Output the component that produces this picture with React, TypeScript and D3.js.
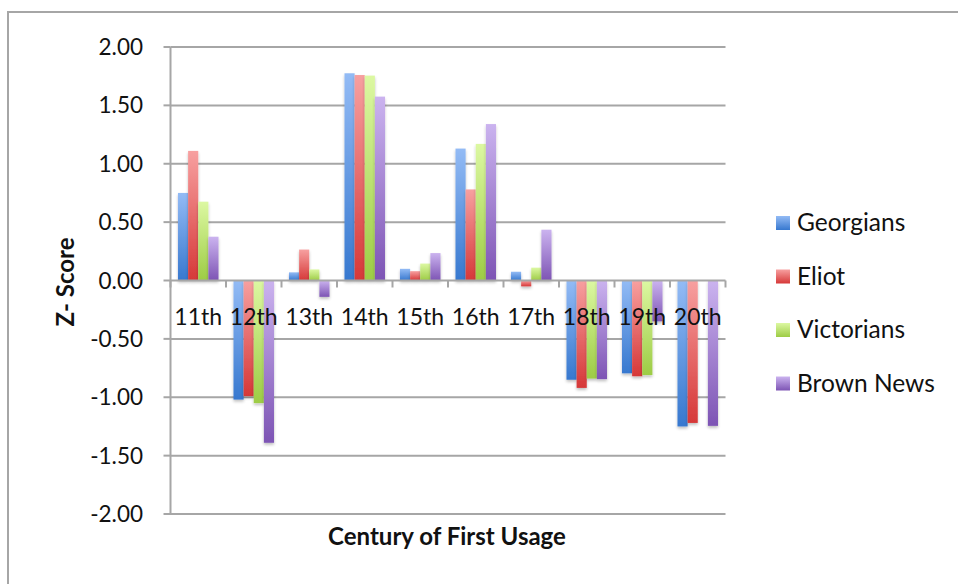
import React from "react";
import * as d3 from "d3";

const categories = ["11th", "12th", "13th", "14th", "15th", "16th", "17th", "18th", "19th", "20th"];
const seriesNames = ["Georgians", "Eliot", "Victorians", "Brown News"];
const georgians = [0.75, -1.02, 0.07, 1.775, 0.1, 1.13, 0.075, -0.85, -0.795, -1.25];
const eliot = [1.11, -0.99, 0.265, 1.76, 0.08, 0.78, -0.05, -0.92, -0.82, -1.22];
const victorians = [0.675, -1.05, 0.095, 1.755, 0.145, 1.17, 0.11, -0.84, -0.81, 0];
const brownNews = [0.375, -1.39, -0.14, 1.575, 0.235, 1.34, 0.435, -0.845, -0.35, -1.245];
const yTicks = [2, 1.5, 1, 0.5, 0, -0.5, -1, -1.5, -2];

const seriesValues = [georgians, eliot, victorians, brownNews];
const gradStops = [
  ["#93bbf5", "#3778cf"],
  ["#f7a0a0", "#d63838"],
  ["#dcf8a2", "#9dcc45"],
  ["#cbb3ef", "#7d54b4"],
];

const FONT = "Lato, 'Open Sans', sans-serif";

export default function App() {
  const W = 958, H = 584;
  const x0 = 170.5, x1 = 725.5;
  const y = d3.scaleLinear().domain([-2, 2]).range([514, 47]);
  const xb = d3.scaleBand<string>().domain(categories).range([x0, x1]).padding(0);
  const step = xb.bandwidth();
  const inner = d3.scaleBand<number>().domain([0, 1, 2, 3]).range([step * 0.135, step * 0.865]).padding(0);
  const zeroY = y(0);

  return (
    <svg width={W} height={H} style={{ position: "absolute", left: 0, top: 0 }}>
      <defs>
        {gradStops.map((g, i) => (
          <linearGradient key={i} id={`g${i}`} x1="0" y1="0" x2="0" y2="1">
            <stop offset="0%" stopColor={g[0]} />
            <stop offset="100%" stopColor={g[1]} />
          </linearGradient>
        ))}
        <filter id="sh" x="-30%" y="-10%" width="160%" height="130%">
          <feGaussianBlur in="SourceAlpha" stdDeviation="1.5" />
          <feOffset dx="0" dy="2" result="b" />
          <feComponentTransfer><feFuncA type="linear" slope="0.25" /></feComponentTransfer>
          <feMerge><feMergeNode /><feMergeNode in="SourceGraphic" /></feMerge>
        </filter>
      </defs>
      <rect x={0} y={0} width={W} height={H} fill="#fff" />
      <rect x={8} y={12} width={W + 10} height={H + 10} fill="none" stroke="#a6a6a6" strokeWidth={2} />

      {yTicks.filter(t => t !== 0).map(t => (
        <line key={t} x1={x0} x2={x1} y1={y(t)} y2={y(t)} stroke="#a6a6a6" strokeWidth={2} />
      ))}
      {yTicks.map(t => (
        <g key={"t" + t}>
          <line x1={x0 - 7} x2={x0} y1={y(t)} y2={y(t)} stroke="#a6a6a6" strokeWidth={2} />
          <text x={143} y={y(t)} dy="0.36em" textAnchor="end" fontFamily={FONT} fontSize={22.5} fill="#111">
            {t.toFixed(2)}
          </text>
        </g>
      ))}

      {seriesValues.map((vals, si) => (
        <g key={si} filter="url(#sh)">
          {vals.map((v, ci) => {
            if (v === 0) return null;
            const bx = (xb(categories[ci]) as number) + (inner(si) as number);
            const top = Math.min(y(v), zeroY);
            const h = Math.abs(y(v) - zeroY);
            return <rect key={ci} x={bx} y={top} width={inner.bandwidth()} height={h} fill={`url(#g${si})`} />;
          })}
        </g>
      ))}

      <line x1={x0} x2={x0} y1={y(2)} y2={y(-2) + 1} stroke="#a6a6a6" strokeWidth={2} />
      <line x1={x0} x2={x1} y1={zeroY} y2={zeroY} stroke="#a6a6a6" strokeWidth={2} />
      {categories.concat(["end"]).map((c, i) => {
        const tx = x0 + i * step;
        return <line key={"c" + i} x1={tx} x2={tx} y1={zeroY} y2={zeroY + 7} stroke="#a6a6a6" strokeWidth={2} />;
      })}
      {categories.map(c => (
        <text key={"l" + c} x={(xb(c) as number) + step / 2} y={325} textAnchor="middle" fontFamily={FONT} fontSize={23} fill="#111">
          {c}
        </text>
      ))}

      <text x={447} y={545} textAnchor="middle" fontFamily={FONT} fontWeight="bold" fontSize={24} fill="#111">
        Century of First Usage
      </text>
      <text transform={`translate(74,282) rotate(-90)`} textAnchor="middle" fontFamily={FONT} fontWeight="bold" fontSize={24} fill="#111">
        Z- Score
      </text>

      {seriesNames.map((n, i) => {
        const by = 231 + i * 53.5;
        return (
          <g key={n}>
            <rect x={776} y={by - 15} width={14} height={14} fill={`url(#g${i})`} />
            <text x={797} y={by} fontFamily={FONT} fontSize={24.5} fill="#111">{n}</text>
          </g>
        );
      })}
    </svg>
  );
}
